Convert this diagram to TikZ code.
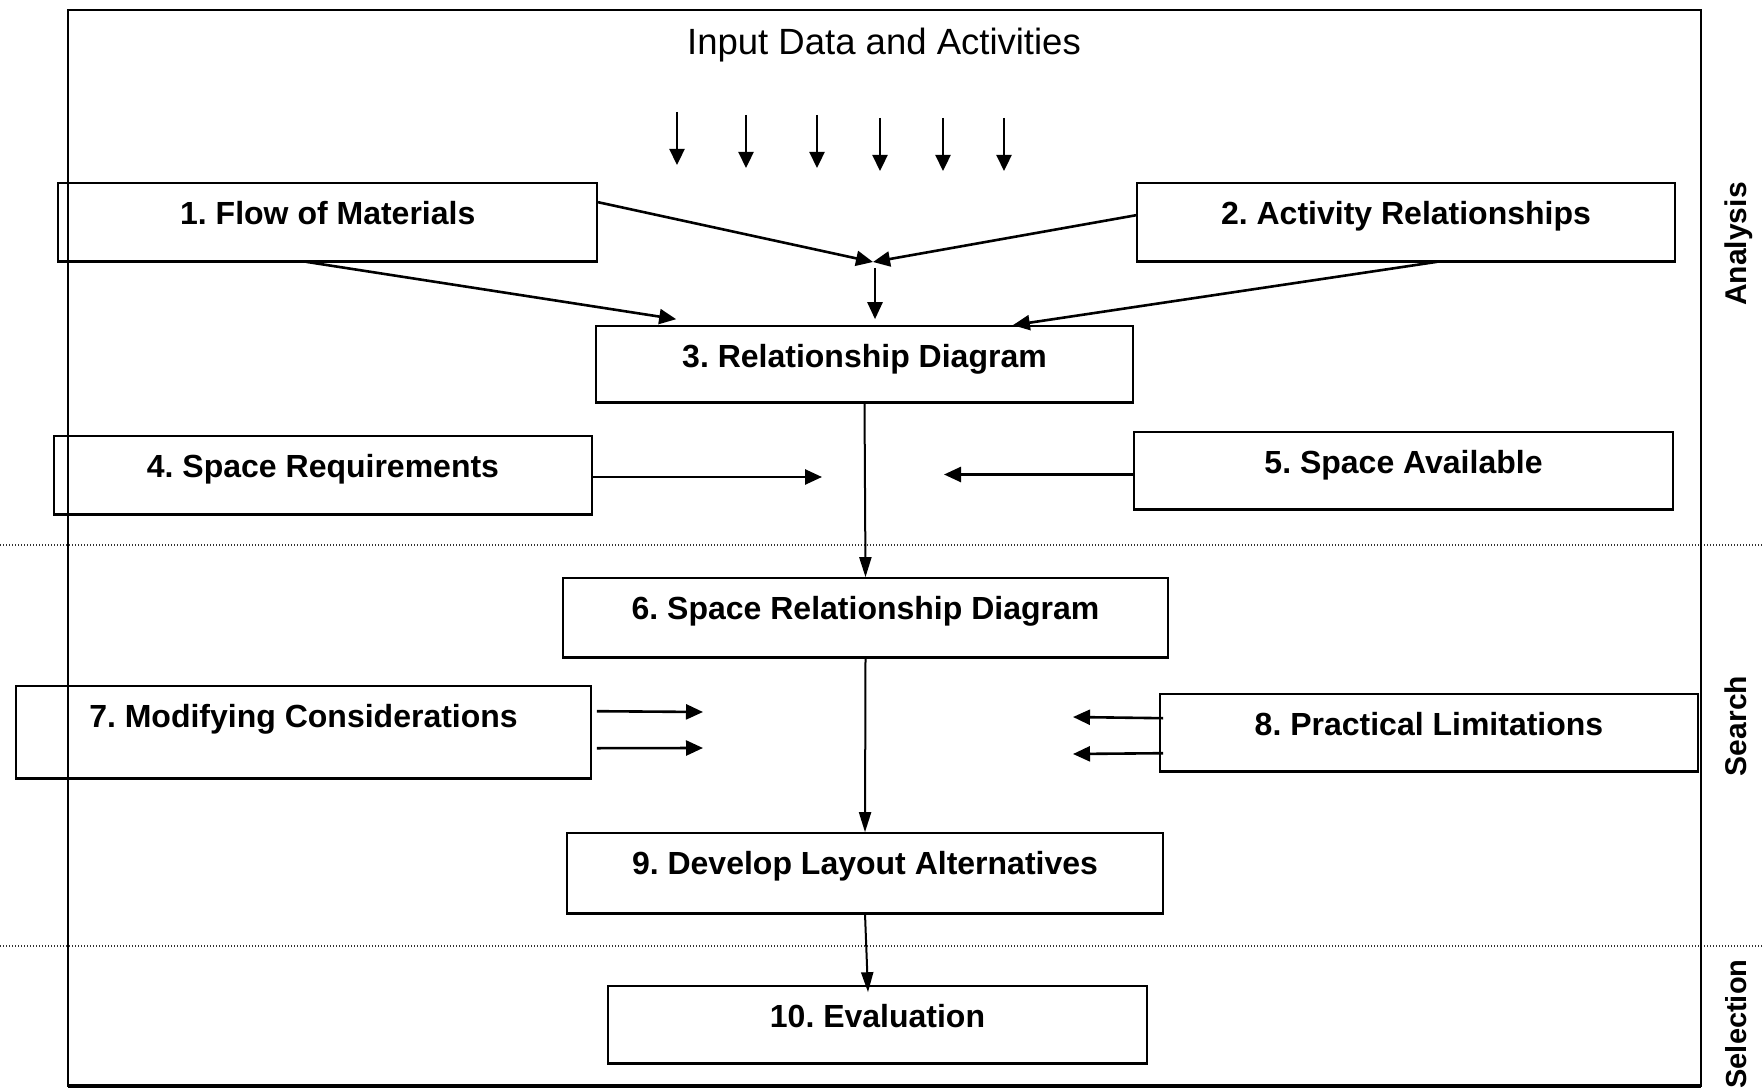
\documentclass[tikz,border=0pt]{standalone}
\usepackage{fontspec}
\setmainfont{Liberation Sans}
\usetikzlibrary{arrows.meta,calc}
\frenchspacing
\begin{document}
\begin{tikzpicture}[x=1pt,y=-1pt,
  box/.style={draw, line width=1.6pt, rectangle, inner sep=0pt},
  txt/.style={anchor=base, inner sep=0pt, font=\fontsize{32}{38}\selectfont\bfseries},
  side/.style={rotate=90, anchor=base, inner sep=0pt, font=\fontsize{30}{36}\selectfont\bfseries},
  flow/.style={line width=2.6pt, -{Triangle[length=17pt,width=15pt]}},
  feed/.style={line width=2.3pt, -{Triangle[length=16pt,width=15pt]}},
  trunk/.style={line width=2pt, -{Triangle[length=20pt,width=12pt]}},
  sep/.style={line width=1.3pt, dash pattern=on 1.3pt off 1.7pt, black!80}
]
\useasboundingbox (0,0) rectangle (1763,1091);

% phase separators
\draw[sep] (0,545) -- (1763,545);
\draw[sep] (0,946) -- (1763,946);

% outer frame
\draw[line width=2pt] (67.5,10) rectangle (1701,1086);
\draw[line width=3.5pt] (67.5,1086) -- (1701,1086);

% title and incoming data arrows
\node[anchor=base, inner sep=0pt, font=\fontsize{36.5}{42}\selectfont] (title) at (884,55) {Input Data and Activities};
\coordinate (i1s) at (677,112);  \coordinate (i1e) at (677,165);
\coordinate (i2s) at (746,115);  \coordinate (i2e) at (746,168);
\coordinate (i3s) at (817,115);  \coordinate (i3e) at (817,168);
\coordinate (i4s) at (880,118);  \coordinate (i4e) at (880,171);
\coordinate (i5s) at (943,118);  \coordinate (i5e) at (943,171);
\coordinate (i6s) at (1004,118); \coordinate (i6e) at (1004,171);
\foreach \k in {1,...,6} \draw[feed] (i\k s) -- (i\k e);

% boxes
\node[box, minimum width=539pt, minimum height=78pt] (b1)  at (327.75,222) {};
\node[box, minimum width=538pt, minimum height=78pt] (b2)  at (1406,222) {};
\node[box, minimum width=537pt, minimum height=76pt] (b3)  at (864.5,364) {};
\node[box, minimum width=538pt, minimum height=78pt] (b4)  at (323,475) {};
\node[box, minimum width=539pt, minimum height=77pt] (b5)  at (1403.5,470.5) {};
\node[box, minimum width=605pt, minimum height=79pt] (b6)  at (865.5,617.5) {};
\node[box, minimum width=575pt, minimum height=92pt] (b7)  at (303.5,732) {};
\node[box, minimum width=538pt, minimum height=77pt] (b8)  at (1429,732.5) {};
\node[box, minimum width=596pt, minimum height=80pt] (b9)  at (865,873) {};
\node[box, minimum width=539pt, minimum height=77pt] (b10) at (877.5,1024.5) {};

% heavier lower edges of the boxes
\foreach \b in {b1,b2,b3,b4,b5,b6,b7,b8,b9,b10}
  \draw[line width=2.6pt] (\b.south west) -- (\b.south east);

% box captions
\node[txt] (t1)  at ($(b1.north)+(0,42)$)  {1. Flow of Materials};
\node[txt] (t2)  at ($(b2.north)+(0,42)$)  {2. Activity Relationships};
\node[txt] (t3)  at ($(b3.north)+(0,42)$)  {3. Relationship Diagram};
\node[txt] (t4)  at ($(b4.north)+(0,42)$)  {4. Space Requirements};
\node[txt] (t5)  at ($(b5.north)+(0,42)$)  {5. Space Available};
\node[txt] (t6)  at ($(b6.north)+(0,42)$)  {6. Space Relationship Diagram};
\node[txt] (t7)  at ($(b7.north)+(0,42)$)  {7. Modifying Considerations};
\node[txt] (t8)  at ($(b8.north)+(0,42)$)  {8. Practical Limitations};
\node[txt] (t9)  at ($(b9.north)+(0,42)$)  {9. Develop Layout Alternatives};
\node[txt] (t10) at ($(b10.north)+(0,42)$) {10. Evaluation};

% phase labels
\node[side] (ana) at (1746,244)  {Analysis};
\node[side] (sea) at (1746,726)  {Search};
\node[side, font=\fontsize{29}{34}\selectfont\bfseries] (sel) at (1746,1024) {Selection};

% converging flows into the relationship diagram
\coordinate (join) at (873,262);
\coordinate (js) at (875,268);
\coordinate (je) at ($(b3.north)+(10.5,-6)$);
\draw[flow] ($(b1.north east)+(0,20)$) -- (join);
\draw[flow] ($(b2.north west)+(0,33)$) -- (join);
\draw[flow] (js) -- (je);
\draw[flow] ($(b1.south west)+(248.5,0)$) -- ($(b3.north west)+(81,-6)$);
\draw[flow] ($(b2.south west)+(301,0)$) -- ($(b3.north east)+(-121,0)$);

% space inputs
\coordinate (s4) at (822,477);
\coordinate (s5) at (944,474.5);
\draw[flow] ($(b4.east)+(0,2)$) -- (s4);
\draw[flow] ($(b5.west)+(0,4)$) -- (s5);

% modifying considerations and practical limitations
\coordinate (m1) at (703,712);
\coordinate (m2) at (703,748);
\coordinate (p1) at (1073,717);
\coordinate (p2) at (1073,754);
\draw[flow] ($(b7.north east)+(5,26)$) -- (m1);
\draw[flow] ($(b7.north east)+(5,63)$) -- (m2);
\draw[flow] ($(b8.north west)+(4,25)$) -- (p1);
\draw[flow] ($(b8.north west)+(4,60)$) -- (p2);

% main trunk
\draw[trunk] (b3.south) -- (b6.north);
\draw[trunk] (b6.south) -- (b9.north);
\draw[trunk] (b9.south) -- ($(b10.north)+(-9.5,7)$);
\end{tikzpicture}
\end{document}
